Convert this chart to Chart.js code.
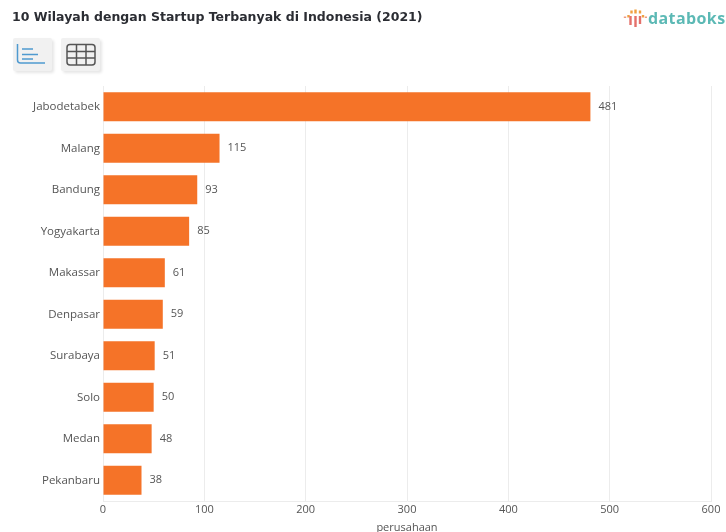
<!DOCTYPE html>
<html>
<head>
<meta charset="utf-8">
<title>10 Wilayah dengan Startup Terbanyak di Indonesia (2021)</title>
<script src="https://cdn.jsdelivr.net/npm/chart.js@4/dist/chart.umd.min.js"></script>
<style>
html, body { margin: 0; padding: 0; background: #fff; overflow: hidden; }
#wrap { position: relative; width: 726px; height: 532px; overflow: hidden; }
#chart { position: absolute; left: 0; top: 0; }
#title { position: absolute; left: 12px; top: 9px; font: bold 12.5px "DejaVu Sans", sans-serif; color: #2b2d33; white-space: nowrap; }
#logo { position: absolute; left: 648px; top: 7px; font: bold 16px "Open Sans", sans-serif; letter-spacing: 0.4px; color: #5cb9b5; white-space: nowrap; }
.btn { position: absolute; top: 38px; width: 39px; height: 33px; background: #f1f1f1; border-radius: 2px; box-shadow: 2px 2px 3px #e6e6e6; }
.btn svg { position: absolute; left: 0; top: 0; }
#mark { position: absolute; left: 623px; top: 9px; }
</style>
</head>
<body>
<div id="wrap">
  <canvas id="chart" width="726" height="534"></canvas>
  <div id="title">10 Wilayah dengan Startup Terbanyak di Indonesia (2021)</div>

  <svg id="mark" width="24" height="19" viewBox="0 0 24 19">
    <g fill="none" stroke-width="2.4">
      <path d="M2 7.5v1.5" stroke="#ee9a80"/>
      <path d="M5.5 6v2.5" stroke="#f0a040"/>
      <path d="M7.5 7v9" stroke="#e4706a"/>
      <path d="M8.5 1.5v3" stroke="#f0a040"/>
      <path d="M12.5 7v11" stroke="#e4706a"/>
      <path d="M12.5 0.5v4" stroke="#f0a040"/>
      <path d="M17 1.5v3" stroke="#f0a040"/>
      <path d="M17 7v8" stroke="#e4706a"/>
      <path d="M20 6v2.5" stroke="#f0a040"/>
      <path d="M23 7.5v1.5" stroke="#ee9a80"/>
    </g>
  </svg>
  <div id="logo">databoks</div>

  <div class="btn" style="left:13px">
    <svg width="39" height="33" viewBox="0 0 39 33" fill="none" stroke="#4f9ad0" stroke-width="1.5">
      <path d="M4.5 6v16q0 3 3 3h24.500"/>
      <path d="M9 11h11M9 16.500h16M9 21h11"/>
    </svg>
  </div>
  <div class="btn" style="left:61px">
    <svg width="39" height="33" viewBox="0 0 39 33" fill="none" stroke="#555" stroke-width="1.5">
      <rect x="6" y="6.500" width="28" height="20.500" rx="3"/>
      <path d="M6 13.500h28M6 20h28M15.500 6.500v20.500M25 6.500v20.500"/>
    </svg>
  </div>
</div>

<script>
const categories = ['Jabodetabek', 'Malang', 'Bandung', 'Yogyakarta', 'Makassar', 'Denpasar', 'Surabaya', 'Solo', 'Medan', 'Pekanbaru'];
const values = [481, 115, 93, 85, 61, 59, 51, 50, 48, 38];
const xTicks = [0, 100, 200, 300, 400, 500, 600];

const labelFont = '11px "Open Sans", sans-serif';
const labelColor = '#555';

// Angka di ujung setiap batang
const barValues = {
    id: 'barValues',
    afterDatasetsDraw(chart) {
        const ctx = chart.ctx;
        const x = chart.scales.x;
        const y = chart.scales.y;
        ctx.save();
        ctx.font = labelFont;
        ctx.fillStyle = labelColor;
        ctx.textBaseline = 'middle';
        values.forEach((v, i) => {
            ctx.fillText(String(v), x.getPixelForValue(v) + 8, y.getPixelForValue(i));
        });
        ctx.restore();
    }
};

const ctx = document.getElementById('chart').getContext('2d');
new Chart(ctx, {
    type: 'bar',
    data: {
        labels: categories,
        datasets: [{
            label: 'perusahaan',
            data: values,
            backgroundColor: '#f57328',
            barPercentage: 0.7,
            categoryPercentage: 1
        }]
    },
    plugins: [barValues],
    options: {
        indexAxis: 'y',
        responsive: false,
        animation: false,
        layout: { padding: { top: 86, right: 15, bottom: 0, left: 0 } },
        plugins: {
            legend: { display: false },
            title: { display: false },
            tooltip: { enabled: false }
        },
        scales: {
            x: {
                min: 0,
                max: 600,
                afterBuildTicks: scale => { scale.ticks = xTicks.map(value => ({ value })); },
                grid: { color: '#ececec', drawTicks: false },
                border: { color: '#ececec' },
                ticks: { font: { family: 'Open Sans', size: 11 }, color: labelColor, padding: 2, maxRotation: 0 },
                title: { display: true, text: 'perusahaan', font: { family: 'Open Sans', size: 11 }, color: labelColor, padding: { top: 2, bottom: 0 } },
                afterFit: scale => { scale.height = 33; }
            },
            y: {
                grid: { display: false, drawTicks: false },
                border: { color: '#ececec' },
                ticks: { font: { family: 'Open Sans', size: 11.5 }, color: labelColor, padding: 3 },
                afterFit: scale => { scale.width = 103; }
            }
        }
    }
});
</script>
</body>
</html>
